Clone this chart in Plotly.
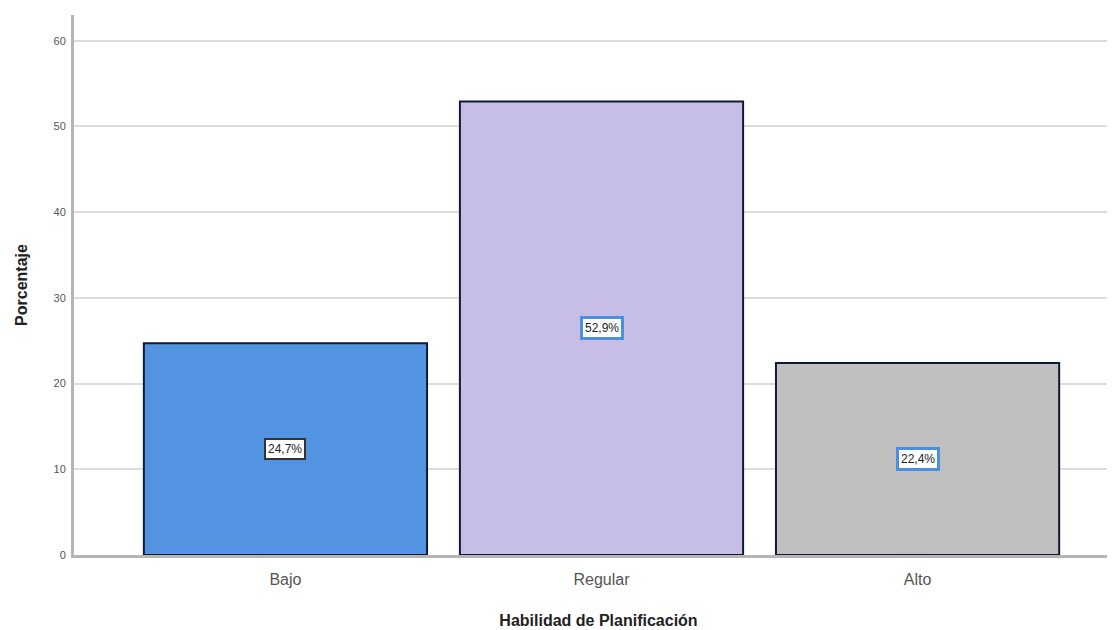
import plotly.graph_objects as go

categories = ["Bajo", "Regular", "Alto"]
values = [24.7, 52.9, 22.4]
labels = ["24,7%", "52,9%", "22,4%"]
bar_colors = ["#5294e2", "#c6bee6", "#c0c0c0"]
label_borders = ["#333333", "#4a8fe0", "#4a8fe0"]
label_border_widths = [2, 3, 3]

fig = go.Figure()
fig.add_trace(go.Bar(
    x=list(range(len(categories))), y=values,
    width=0.896,
    marker=dict(color=bar_colors, line=dict(color="#111a33", width=2)),
    hoverinfo="skip",
))

for i, (v, t) in enumerate(zip(values, labels)):
    fig.add_annotation(x=i, y=v / 2, text=t, showarrow=False,
                       font=dict(family="Arial, Liberation Sans", size=12, color="#222222"),
                       bgcolor="white", bordercolor=label_borders[i],
                       borderwidth=label_border_widths[i], borderpad=2)

fig.update_layout(
    width=1115, height=630,
    margin=dict(l=66, r=0, t=7, b=83),
    plot_bgcolor="white", paper_bgcolor="white",
    showlegend=False,
    font=dict(family="Arial, Liberation Sans"),
    xaxis=dict(
        range=[-0.669, 2.650],
        tickmode="array", tickvals=list(range(len(categories))), ticktext=categories,
        tickfont=dict(size=16, color="#555555"),
        ticklabelstandoff=8,
        showgrid=False, zeroline=False,
        showline=True, linecolor="#b5b5b5", linewidth=3,
        title=dict(text="<b>Habilidad de Planificación</b>", font=dict(size=16, color="#222222"), standoff=28),
    ),
    yaxis=dict(
        range=[0, 63], tickvals=[0, 10, 20, 30, 40, 50, 60],
        tickfont=dict(size=11, color="#555555"),
        showgrid=True, gridcolor="#dcdcdc", gridwidth=2,
        zeroline=False,
        showline=True, linecolor="#b5b5b5", linewidth=3,
        ticks="", ticklabelstandoff=3,
        title=dict(text="<b>Porcentaje</b>", font=dict(size=16, color="#222222"), standoff=22),
    ),
)

fig.write_html("out.html")
